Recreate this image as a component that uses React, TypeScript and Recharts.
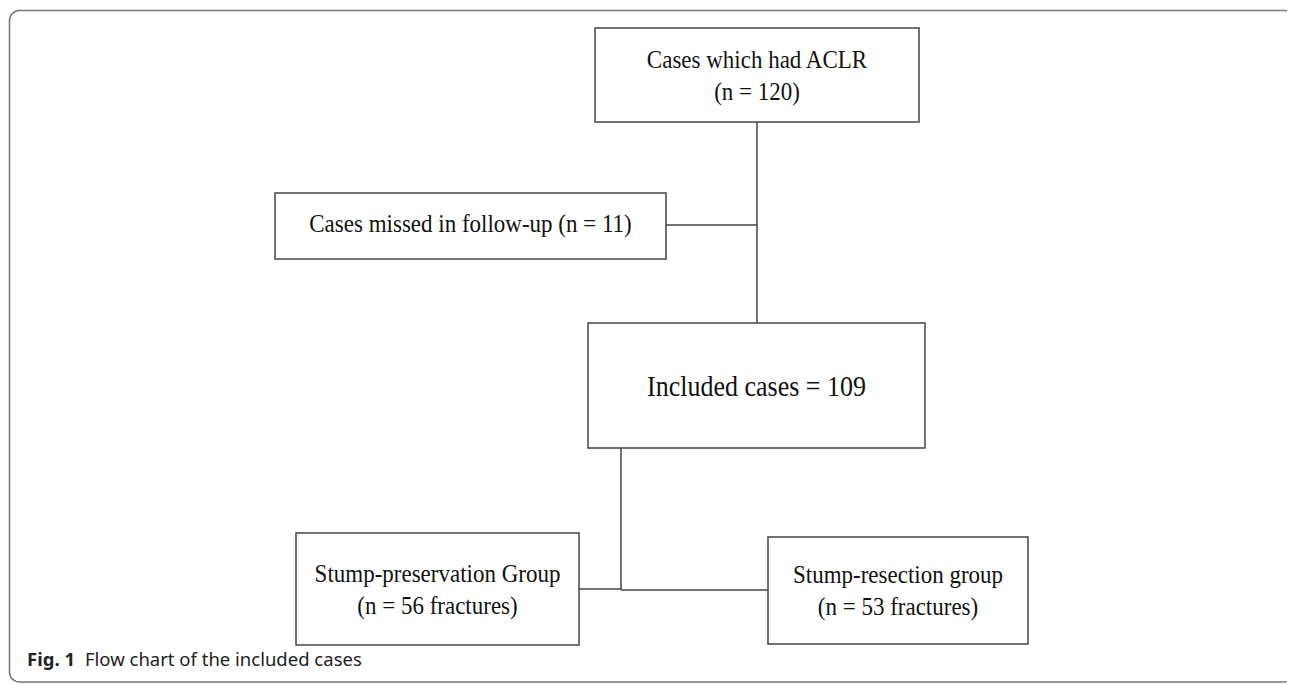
import React from "react";
import {
  ComposedChart,
  XAxis,
  YAxis,
  ReferenceArea,
  ReferenceLine,
  ReferenceDot,
} from "recharts";

// flow chart nodes, in page coordinates (x right, y down)
const nodeIds = ["aclr", "missed", "included", "preserve", "resect"];
const nodeX1 = [595, 275, 588, 296, 768];
const nodeX2 = [919, 666, 925, 579, 1028];
const nodeY1 = [28, 193, 323, 533, 537];
const nodeY2 = [122, 259, 448, 645, 644];
const nodeText = [
  ["Cases which had ACLR", "(n = 120)"],
  ["Cases missed in follow-up (n = 11)"],
  ["Included cases = 109"],
  ["Stump-preservation Group", "(n = 56 fractures)"],
  ["Stump-resection group", "(n = 53 fractures)"],
];

// connector segments: [x1, y1, x2, y2]
const links = [
  [757, 122, 757, 323],
  [666, 225, 757, 225],
  [621, 448, 621, 590],
  [579, 589, 621, 589],
  [621, 590, 768, 590],
];

const captionBold = "Fig. 1";
const captionText = "Flow chart of the included cases";

const W = 1287;
const H = 677;
const serif = "'Liberation Serif', 'Times New Roman', serif";
const ink = "#444";

const NodeLabel = (lines: string[], big: boolean) => (props: any) => {
  const vb = props.viewBox || {};
  const cx = vb.x + vb.width / 2;
  const cy = vb.y + vb.height / 2 - (lines.length === 1 && !big ? 3 : 0);
  const gap = 32;
  const top = cy - ((lines.length - 1) * gap) / 2;
  return (
    <g>
      {lines.map((t, i) => (
        <text
          key={i}
          transform={`translate(${cx}, ${top + i * gap}) scale(1, 1.12)`}
          textAnchor="middle"
          dominantBaseline="central"
          fontFamily={serif}
          fontSize={big ? 26 : 23}
          fill="#111"
        >
          {t}
        </text>
      ))}
    </g>
  );
};

const Box = (props: any) => (
  <rect
    x={props.x}
    y={props.y}
    width={props.width}
    height={props.height}
    fill="#fff"
    stroke={ink}
    strokeWidth={1.5}
  />
);

const Frame = (props: any) => (
  <rect
    x={props.x}
    y={props.y}
    width={props.width}
    height={props.height}
    rx={10}
    ry={10}
    fill="none"
    stroke="#777"
    strokeWidth={1.5}
  />
);

const Caption = (props: any) => {
  const vb = props.viewBox || {};
  return (
    <text
      x={vb.x}
      y={vb.y}
      fontFamily="'Noto Sans', 'Open Sans', sans-serif"
      fontSize={18.5}
      fill="#222"
    >
      <tspan fontWeight="bold">{captionBold}</tspan>
      <tspan dx={10}>{captionText}</tspan>
    </text>
  );
};

const App = () => {
  return (
    <div style={{ width: W, height: H }}>
      <ComposedChart
        width={W}
        height={H}
        margin={{ top: 0, right: 0, bottom: 0, left: 0 }}
      >
        <XAxis type="number" dataKey="x" domain={[8, 1295]} allowDataOverflow hide />
        <YAxis type="number" dataKey="y" domain={[8, 685]} reversed allowDataOverflow hide />
        <ReferenceArea
          x1={9.5}
          x2={1294}
          y1={10.5}
          y2={682}
          shape={Frame}
          ifOverflow="visible"
        />
        {links.map((s, i) => (
          <ReferenceLine
            key={"l" + i}
            segment={[
              { x: s[0], y: s[1] },
              { x: s[2], y: s[3] },
            ]}
            stroke={ink}
            strokeWidth={1.5}
            ifOverflow="visible"
          />
        ))}
        {nodeIds.map((id, i) => (
          <ReferenceArea
            key={id}
            x1={nodeX1[i]}
            x2={nodeX2[i]}
            y1={nodeY1[i]}
            y2={nodeY2[i]}
            shape={Box}
            label={NodeLabel(nodeText[i], id === "included")}
            ifOverflow="visible"
          />
        ))}
        <ReferenceDot
          x={27}
          y={666}
          r={0}
          fill="none"
          stroke="none"
          label={Caption}
          ifOverflow="visible"
        />
      </ComposedChart>
    </div>
  );
};

export default App;
